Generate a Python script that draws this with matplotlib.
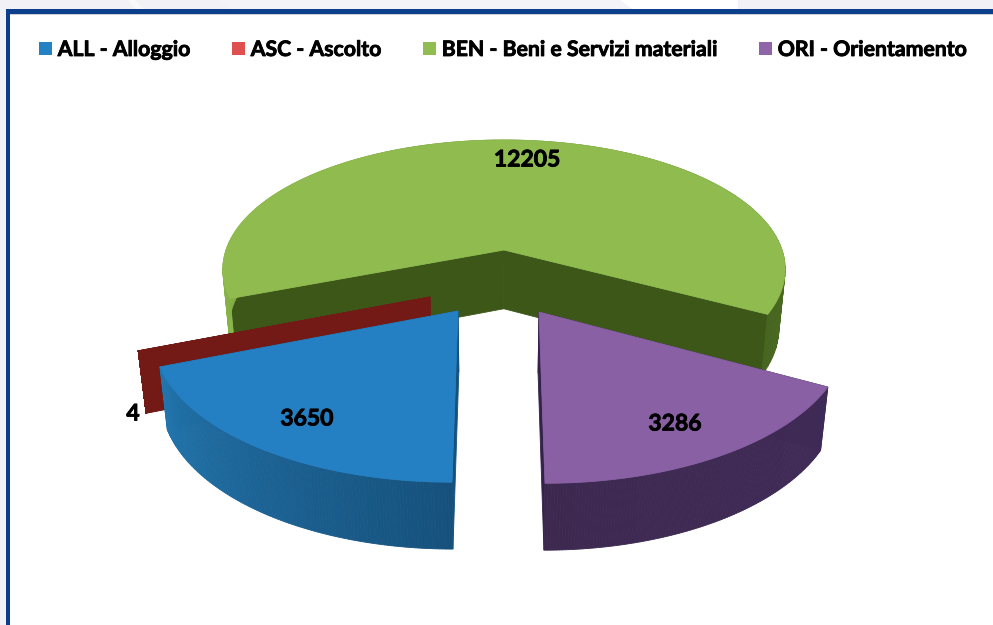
import numpy as np
import matplotlib
matplotlib.use("Agg")
import matplotlib.pyplot as plt
import matplotlib.patheffects as pe
from matplotlib.colors import to_rgb
from matplotlib.patches import Patch, Polygon, Rectangle

plt.rcParams['font.family'] = ['Lato', 'DejaVu Sans']

# data
labels = ["ALL - Alloggio", "ASC - Ascolto", "BEN - Beni e Servizi materiali", "ORI - Orientamento"]
values = [3650, 4, 12205, 3286]

# styles
legend_colors = ["#2481c4", "#e04f4f", "#90bc50", "#8f64a8"]
top_colors = ["#2480c2", "#731a16", "#8fbb4f", "#8a60a5"]
wall_from = ["#16517c", "#731a16", "#8ab84a", "#3f2b57"]
wall_to = ["#2275ad", "#731a16", "#46651f", "#3d2950"]
cut_colors = ["#16517c", "#731a16", "#3d5719", "#33224a"]
label_pos = [(307, 419), (133, 414), (527, 160), (675, 424)]

# how each exploded slice sits on the page: apex x, apex y, rx, ry, perspective, skew
views = [
    (458, 311, 300, 145, 0.153, 6),
    (430, 297, 296, 140, 0.15, 0),
    (504, 250, 278, 126.5, 0.15, 0),
    (539, 312, 304.6, 149, 0.13, -6),
]

# slices run clockwise from straight down
start_angle = 270.0
shares = np.array(values) / np.sum(values) * 360.0
ends = start_angle - np.cumsum(shares)
starts = ends + shares

heavy = [pe.withStroke(linewidth=0.6, foreground="black")]


def project(view, t):
    x0, y0, rx, ry, k, skew = view
    X = np.cos(np.radians(t))
    Y = np.sin(np.radians(t))
    p = 1.0 / (1.0 + k * Y)
    return x0 + rx * X * p + skew * Y, y0 - ry * Y * p


def lower(x, y):
    # bottom edge of the disc, leaning towards the vanishing point
    return x + (496 - x) * 0.022, y + 50 + 0.035 * y


def mix(c1, c2, f):
    return tuple((1 - f) * a + f * b for a, b in zip(to_rgb(c1), to_rgb(c2)))


fig = plt.figure(figsize=(9.93, 6.25), dpi=100)
ax = fig.add_axes([0, 0, 1, 1])
ax.set_xlim(0, 993)
ax.set_ylim(625, 0)
ax.axis("off")

# page behind the chart box
ax.add_patch(Rectangle((0, 0), 993, 625, fc="#f2f1f6", ec="none", zorder=0))
ax.add_patch(Polygon([(128, 0), (136, 0), (143, 9), (135, 9)], fc="#f8f8fb", ec="none", zorder=0.5))
ax.add_patch(Polygon([(220, 0), (620, 0), (632, 9), (229, 9)], fc="#f4f3f8", ec="none", zorder=0.5))
ax.add_patch(Polygon([(620, 0), (738, 0), (738, 9), (632, 9)], fc="#ffffff", ec="none", zorder=0.5))
ax.add_patch(Rectangle((7, 11), 986, 614, fc="white", ec="none", zorder=1))
ax.add_patch(Rectangle((7, 13), 986, 2, fc="#d0d0d4", ec="none", zorder=1.2))
ax.add_patch(Rectangle((6, 9), 987, 4.5, fc="#0b3f8c", ec="none", zorder=1.5))
ax.add_patch(Rectangle((6, 9), 4, 616, fc="#0b3f8c", ec="none", zorder=1.5))

# drawn back to front: green, maroon, blue, purple
for z, i in enumerate([2, 1, 0, 3]):
    view = views[i]
    base = 2 + z * 2
    t = np.linspace(starts[i], ends[i], 121)
    xs, ys = project(view, t)
    bx, by = lower(xs, ys)
    ax0, ay0 = view[0], view[1]
    bax, bay = lower(ax0, ay0)

    # the two cut faces
    for e in [0, -1]:
        ax.add_patch(Polygon([(ax0, ay0), (xs[e], ys[e]), (bx[e], by[e]), (bax, bay)],
                             fc=cut_colors[i], ec=cut_colors[i], lw=0.6, zorder=base))
    # outer wall
    for j in range(len(t) - 1):
        c = mix(wall_from[i], wall_to[i], j / (len(t) - 2))
        ax.add_patch(Polygon([(xs[j], ys[j]), (xs[j + 1], ys[j + 1]), (bx[j + 1], by[j + 1]), (bx[j], by[j])],
                             fc=c, ec=c, lw=0.6, zorder=base + 0.5))
    # top face
    ax.add_patch(Polygon(np.column_stack([np.r_[ax0, xs], np.r_[ay0, ys]]),
                         fc=top_colors[i], ec=top_colors[i], lw=0.6, zorder=base + 1))

for value, (x, y) in zip(values, label_pos):
    ax.text(x, y, str(value), ha="center", va="center", fontsize=16.5, fontweight="bold", color="black",
            zorder=20, path_effects=heavy)

handles = [Patch(fc=c, ec="none") for c in legend_colors]
leg = ax.legend(handles, labels, ncols=4, loc="upper left", bbox_to_anchor=(39 / 993, 1 - 40 / 625),
                frameon=False, prop={"family": "Lato", "weight": "bold", "size": 15.3},
                handlelength=0.6, handleheight=0.6, handletextpad=0.28, columnspacing=1.95,
                borderpad=0, borderaxespad=0)
leg.set_zorder(20)
for txt in leg.get_texts():
    txt.set_path_effects(heavy)

fig.savefig("out.png", dpi=100)
